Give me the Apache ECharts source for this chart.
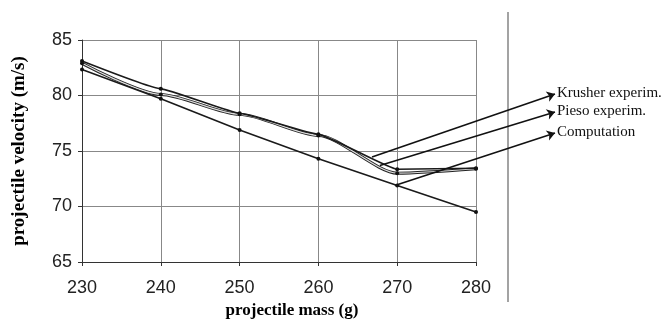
<!DOCTYPE html>
<html>
<head>
<meta charset="utf-8">
<script src="https://cdn.jsdelivr.net/npm/echarts@6/dist/echarts.min.js"></script>
<style>
html, body { margin: 0; padding: 0; background: #fff; }
#chart { width: 667px; height: 324px; }
</style>
</head>
<body>
<div id="chart"></div>
<script>
// projectile mass (g)
var mass = [230, 240, 250, 260, 270, 280];
// velocities (m/s)
var krusher = [83.1, 80.6, 78.4, 76.5, 73.35, 73.45];
var pieso = [82.9, 80.1, 78.3, 76.4, 73.0, 73.4];
var computation = [82.35, 79.7, 76.9, 74.3, 71.9, 69.5];
// where each pointer starts on its curve [mass, velocity]
var pointerFrom = [[266.8, 74.45], [267.8, 73.7], [269.7, 71.9]];
var labels = ['Krusher experim.', 'Pieso experim.', 'Computation'];

function pairs(ys) {
    return mass.map(function (m, i) { return [m, ys[i]]; });
}

var serif = 'Liberation Serif, Times New Roman, serif';
var sans = 'Liberation Sans, Arial, sans-serif';

// arrow tips sit just left of the text block
var tipX = 555;
var tipY = [94, 112, 133];

var arrows = labels.map(function (name, i) {
    return [
        { coord: pointerFrom[i], name: name },
        { x: tipX, y: tipY[i] }
    ];
});

var chart = echarts.init(document.getElementById('chart'));
chart.setOption({
    animation: false,
    grid: { left: 82, right: 191, top: 40, bottom: 57 },
    xAxis: {
        type: 'value',
        min: 230, max: 280, interval: 10,
        name: 'projectile mass (g)',
        nameLocation: 'middle',
        nameGap: 40,
        nameTextStyle: { fontFamily: serif, fontWeight: 'bold', fontSize: 17, color: '#000', padding: [0, 0, 0, 26] },
        axisLine: { show: true, lineStyle: { color: '#333', width: 1 } },
        axisTick: { show: true, length: 4, lineStyle: { color: '#333' } },
        axisLabel: { fontFamily: sans, fontSize: 18, color: '#222', margin: 17 },
        splitLine: { show: true, lineStyle: { color: '#888', width: 1 } }
    },
    yAxis: {
        type: 'value',
        min: 65, max: 85, interval: 5,
        name: 'projectile velocity (m/s)',
        nameLocation: 'middle',
        nameGap: 53,
        nameTextStyle: { fontFamily: serif, fontWeight: 'bold', fontSize: 19, color: '#000' },
        axisLine: { show: true, lineStyle: { color: '#333', width: 1 } },
        axisTick: { show: true, length: 4, lineStyle: { color: '#333' } },
        axisLabel: { fontFamily: sans, fontSize: 18, color: '#222', margin: 10 },
        splitLine: { show: true, lineStyle: { color: '#888', width: 1 } }
    },
    series: [
        {
            name: 'Pieso outline',
            type: 'line',
            data: pairs(pieso),
            smooth: 0.25,
            smoothMonotone: 'x',
            symbol: 'none',
            lineStyle: { color: '#222', width: 3 },
            z: 2
        },
        {
            name: 'Pieso experim.',
            type: 'line',
            data: pairs(pieso),
            smooth: 0.25,
            smoothMonotone: 'x',
            symbol: 'circle',
            symbolSize: 4,
            itemStyle: { color: '#111' },
            lineStyle: { color: '#ddd', width: 1.2 },
            z: 3
        },
        {
            name: 'Krusher experim.',
            type: 'line',
            data: pairs(krusher),
            smooth: 0.1,
            smoothMonotone: 'x',
            symbol: 'circle',
            symbolSize: 4,
            itemStyle: { color: '#111' },
            lineStyle: { color: '#1a1a1a', width: 1.6 },
            z: 4
        },
        {
            name: 'Computation',
            type: 'line',
            data: pairs(computation),
            symbol: 'circle',
            symbolSize: 4,
            itemStyle: { color: '#111' },
            lineStyle: { color: '#1a1a1a', width: 1.6 },
            clip: false,
            z: 5,
            markLine: {
                silent: true,
                symbol: ['none', 'arrow'],
                symbolSize: 8,
                lineStyle: { color: '#111', width: 1.6, type: 'solid' },
                label: {
                    show: true,
                    position: 'end',
                    distance: 2,
                    formatter: function (p) { return p.name; },
                    fontFamily: serif,
                    fontSize: 15,
                    color: '#111'
                },
                data: arrows
            }
        }
    ],
    graphic: [
        {
            type: 'line',
            shape: { x1: 508, y1: 12, x2: 508, y2: 302 },
            style: { stroke: '#666', lineWidth: 1.2 }
        }
    ]
});
</script>
</body>
</html>
